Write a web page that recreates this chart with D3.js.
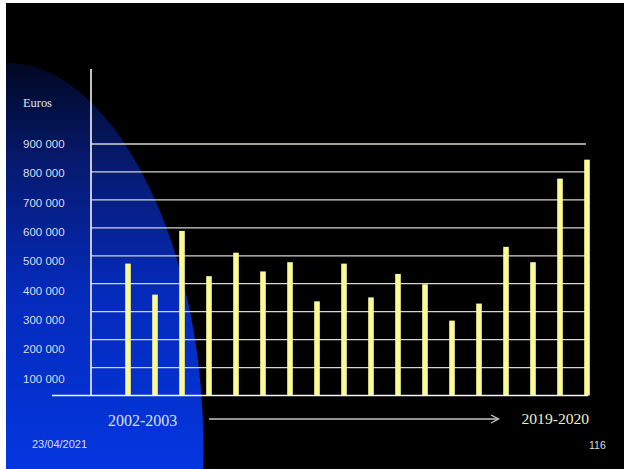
<!DOCTYPE html>
<html>
<head>
<meta charset="utf-8">
<script src="https://cdn.jsdelivr.net/npm/d3@7"></script>
<style>
  html, body { margin: 0; padding: 0; background: #fff; }
  svg { display: block; }
</style>
</head>
<body>
<svg id="chart" width="624" height="469"></svg>
<script>
// Academic years, one bar each
const years = [
  "2002-2003", "2003-2004", "2004-2005", "2005-2006", "2006-2007", "2007-2008",
  "2008-2009", "2009-2010", "2010-2011", "2011-2012", "2012-2013", "2013-2014",
  "2014-2015", "2015-2016", "2016-2017", "2017-2018", "2018-2019", "2019-2020"
];
// Amount per year, in euros
const amounts = [
  472000, 361000, 589000, 427000, 511000, 444000,
  477000, 337000, 472000, 351000, 435000, 398000,
  268000, 329000, 532000, 477000, 776000, 844000
];
// Gridline values and their printed labels
const gridValues = [100000, 200000, 300000, 400000, 500000, 600000, 700000, 800000, 900000];
const tickLabels = ["900 000", "800 000", "700 000", "600 000", "500 000", "400 000", "300 000", "200 000", "100 000"];

const svg = d3.select("#chart");
const W = 624, H = 469;

// Slide background
svg.append("rect").attr("width", W).attr("height", H).attr("fill", "#000");

// Blue swoosh on the left side of the slide
const defs = svg.append("defs");
const grad = defs.append("linearGradient")
  .attr("id", "swoosh").attr("x1", 0).attr("y1", 0).attr("x2", 0).attr("y2", 1);
grad.append("stop").attr("offset", "0%").attr("stop-color", "#000822");
grad.append("stop").attr("offset", "25%").attr("stop-color", "#061a70");
grad.append("stop").attr("offset", "55%").attr("stop-color", "#042ab8");
grad.append("stop").attr("offset", "100%").attr("stop-color", "#0436e0");

const swoosh = d3.path();
swoosh.moveTo(6, 63);
swoosh.bezierCurveTo(110, 60, 210, 245, 203, 469);
swoosh.lineTo(6, 469);
swoosh.closePath();
svg.append("path").attr("d", swoosh.toString()).attr("fill", "url(#swoosh)");

// Scales
const y = d3.scaleLinear().domain([0, 900000]).range([395.5, 144]);
const x = d3.scalePoint().domain(years).range([128, 587]);
const labelY = d3.scalePoint().domain(tickLabels).range([144, 378.5]);

// Horizontal gridlines
svg.append("g").selectAll("line")
  .data(gridValues).join("line")
  .attr("x1", 91).attr("x2", 586)
  .attr("y1", d => y(d)).attr("y2", d => y(d))
  .attr("stroke", "#d6d6cc").attr("stroke-width", 1.3);

// Bars
const barW = 5.6;
svg.append("g").selectAll("rect")
  .data(amounts).join("rect")
  .attr("x", (d, i) => x(years[i]) - barW / 2)
  .attr("y", d => y(d))
  .attr("width", barW)
  .attr("height", d => y(0) - y(d))
  .attr("fill", "#fafa96");

// Axis lines
svg.append("line").attr("x1", 91).attr("x2", 91).attr("y1", 69).attr("y2", y(0))
  .attr("stroke", "#f4f4f4").attr("stroke-width", 1.6);
svg.append("line").attr("x1", 52).attr("x2", 588).attr("y1", y(0)).attr("y2", y(0))
  .attr("stroke", "#f4f4f4").attr("stroke-width", 1.6);

// Value labels column
svg.append("g").selectAll("text")
  .data(tickLabels).join("text")
  .attr("x", 23).attr("y", d => labelY(d))
  .attr("dy", "0.35em")
  .attr("font-family", "Liberation Sans, Arial, sans-serif")
  .attr("font-size", 11.5)
  .attr("fill", "#dcdce8")
  .text(d => d);

svg.append("text")
  .attr("x", 23).attr("y", 103).attr("dy", "0.35em")
  .attr("font-family", "Liberation Serif, Times New Roman, serif")
  .attr("font-size", 12.4).attr("fill", "#e4e4ec")
  .text("Euros");

// Period span under the bars
svg.append("text")
  .attr("x", 108).attr("y", 420).attr("dy", "0.35em")
  .attr("font-family", "Liberation Serif, Times New Roman, serif")
  .attr("font-size", 16).attr("fill", "#dde0f0")
  .text(years[0]);
svg.append("text")
  .attr("x", 521.5).attr("y", 419).attr("dy", "0.35em")
  .attr("font-family", "Liberation Serif, Times New Roman, serif")
  .attr("font-size", 15.6).attr("fill", "#eeeec4")
  .text(years[years.length - 1]);

svg.append("line").attr("x1", 209).attr("x2", 498).attr("y1", 419).attr("y2", 419)
  .attr("stroke", "#c4c4c4").attr("stroke-width", 1.4);
svg.append("path").attr("d", "M491,415L498.5,419L491,423")
  .attr("fill", "none").attr("stroke", "#c4c4c4").attr("stroke-width", 1.4);

// Slide footer
svg.append("text")
  .attr("x", 32).attr("y", 444).attr("dy", "0.35em")
  .attr("font-family", "Liberation Sans, Arial, sans-serif")
  .attr("font-size", 11).attr("fill", "#dcdcec")
  .text("23/04/2021");
svg.append("text")
  .attr("x", 589).attr("y", 445).attr("dy", "0.35em")
  .attr("font-family", "Liberation Sans, Arial, sans-serif")
  .attr("font-size", 10.5).attr("fill", "#dcdcec")
  .text("116");

// White slide margin
svg.append("rect").attr("x", 0).attr("y", 0).attr("width", 6).attr("height", H).attr("fill", "#fff");
svg.append("rect").attr("x", 0).attr("y", 0).attr("width", W).attr("height", 3).attr("fill", "#fff");
</script>
</body>
</html>
